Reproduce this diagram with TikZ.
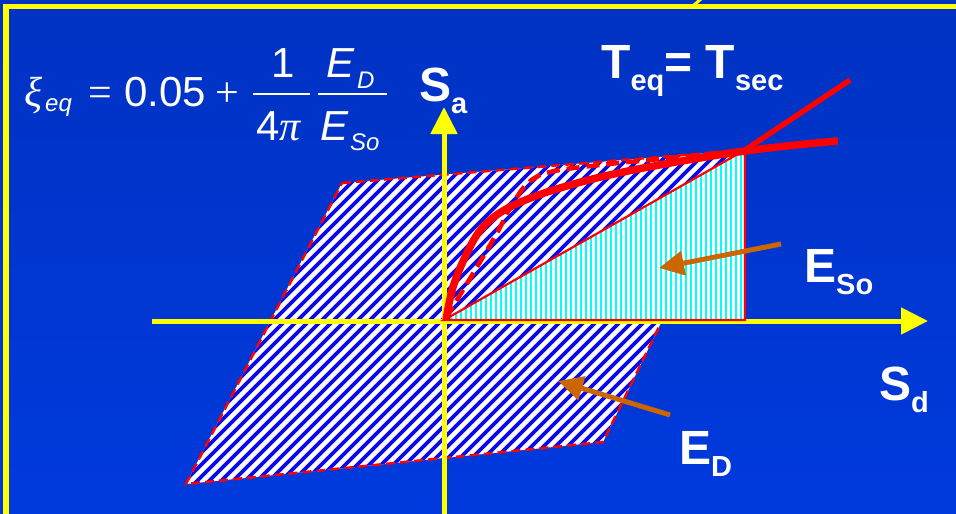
\documentclass[tikz,border=0pt]{standalone}
\usepackage{fontspec}
\setmainfont{Liberation Sans}
\newfontfamily\tms{Liberation Serif}
\usetikzlibrary{arrows.meta}
\definecolor{bgtop}{RGB}{0,50,194}
\definecolor{bgbot}{RGB}{0,58,222}
\definecolor{ylw}{RGB}{255,255,0}
\definecolor{hblue}{RGB}{10,10,235}
\definecolor{brn}{RGB}{204,102,0}
\definecolor{cyn}{RGB}{0,255,255}
\newcommand\bsub[2]{#1\raisebox{-12pt}{\fontsize{29}{29}\selectfont #2}}
\begin{document}
\begin{tikzpicture}[x=1pt,y=-1pt,
  lbl/.style={text=white, inner sep=0pt, anchor=base west, font=\fontsize{48}{48}\selectfont\bfseries},
  fml/.style={text=white, inner sep=0pt, anchor=base west, font=\fontsize{42}{42}\selectfont},
  fsub/.style={text=white, inner sep=0pt, anchor=base west, font=\fontsize{24}{24}\selectfont\itshape},
  axisline/.style={ylw, line width=5pt, -{Triangle[length=27pt,width=26pt]}},
  ptr/.style={brn, line width=5pt, -{Triangle[length=25pt,width=24pt]}},
  fracbar/.style={white, line width=1.6pt},
  hyst/.style={red, line width=2.5pt, dash pattern=on 9pt off 5pt},
  diagstripe/.style={hblue, line width=3.6pt},
  vstripe/.style={cyn, line width=2.6pt},
]
\useasboundingbox (0,0) rectangle (956,514);
\shade[top color=bgtop, bottom color=bgbot] (0,0) rectangle (956,514);
% frame
\draw[ylw, line width=5.5pt, line join=miter] (6,520) -- (6,6.6) -- (962,6.6);
\draw[ylw, line width=3pt] (694,5) -- (701,-1);

% hysteresis loop
\coordinate (h1) at (342,183);
\coordinate (h2) at (745,150);
\coordinate (h3) at (603,442);
\coordinate (h4) at (186,484);
\fill[white] (h1) -- (h2) -- (h3) -- (h4) -- cycle;
\begin{scope}
  \clip (h1) -- (h2) -- (h3) -- (h4) -- cycle;
  \foreach \i in {-160,-148,...,760} \draw[diagstripe] (\i,490) -- ++(360,-360);
\end{scope}
\draw[hyst] (h1) -- (h2) -- (h3) -- (h4) -- cycle;

% strain energy triangle
\coordinate (o) at (444,320);
\coordinate (t2) at (745,320);
\fill[white] (o) -- (h2) -- (t2) -- cycle;
\begin{scope}
  \clip (o) -- (h2) -- (t2) -- cycle;
  \foreach \i in {446,451,...,746} \draw[vstripe] (\i,140) -- (\i,325);
\end{scope}

% axes
\coordinate (xs) at (152,321);
\coordinate (xe) at (928,321);
\coordinate (ys) at (444,520);
\coordinate (ye) at (444,107);
\draw[axisline] (xs) -- (xe);
\draw[axisline] (ys) -- (ye);

\draw[red, line width=2.2pt, line join=miter] (o) -- (h2) -- (t2) -- cycle;

% dashed curve
\draw[red, line width=4.5pt, dash pattern=on 13pt off 7pt] plot[smooth, tension=0.6] coordinates
  {(446,318) (463,290) (480,262) (497,233) (512,205) (528,183) (550,172) (600,165) (680,157) (745,150)};
% thick backbone curve
\draw[red, line width=7.5pt] plot[smooth, tension=0.6] coordinates
  {(446,320) (453,287) (467,253) (483,227) (510,207) (560,188) (633,170) (745,151) (838,141)};
% secant extension
\coordinate (sc) at (850,80);
\draw[red, line width=5.5pt] (h2) -- (sc);

% pointers
\coordinate (a1s) at (781,244);
\coordinate (a1e) at (659,268);
\coordinate (a2s) at (670,415);
\coordinate (a2e) at (558,381);
\draw[ptr] (a1s) -- (a1e);
\draw[ptr] (a2s) -- (a2e);

% labels
\node[lbl] (teq) at (601,78) {\bsub{T}{eq}= \bsub{T}{sec}};
\node[lbl] (sa) at (419,101) {\bsub{S}{a}};
\node[lbl] (eso) at (804,282) {\bsub{E}{So}};
\node[lbl] (sd) at (879,400) {\bsub{S}{d}};
\node[lbl] (ed) at (679,464) {\bsub{E}{D}};

% formula
\node[fml] (xi) at (24,106) {\tms\itshape ξ};
\node[fsub] (xisub) at (45,111) {eq};
\node[fml] (eq) at (88,106) {\tms =};
\node[fml] (num) at (124,106) {0.05};
\node[fml] (plus) at (215,106) {\tms +};
\draw[fracbar] (253,94) -- (310,94);
\node[fml, anchor=base] (one) at (283,77) {1};
\node[fml] (four) at (256,140) {4\tms\itshape π};
\draw[fracbar] (318,94) -- (387,94);
\node[fml] (ed1) at (326,77) {\itshape E};
\node[fsub] (ed2) at (357,88) {D};
\node[fml] (es1) at (320,140) {\itshape E};
\node[fsub] (es2) at (350,150) {So};
\end{tikzpicture}
\end{document}
